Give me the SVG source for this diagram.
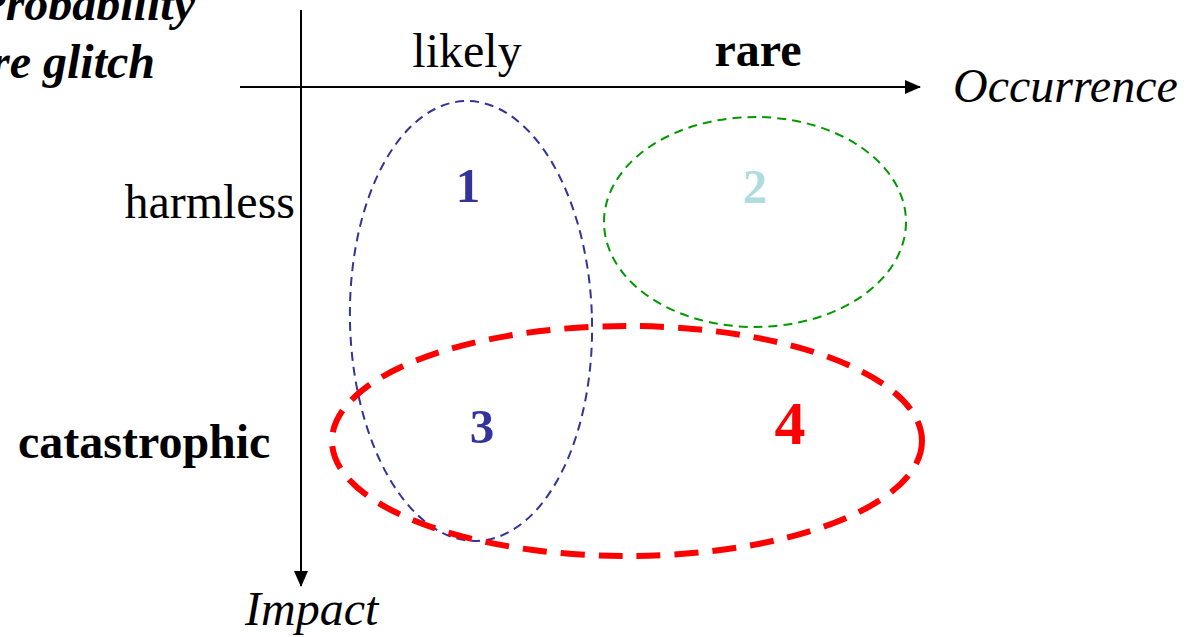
<svg xmlns="http://www.w3.org/2000/svg" width="1188" height="637" viewBox="0 0 1188 637">
<style>
text{font-family:"Liberation Serif","Times New Roman",serif;font-size:48px;fill:#000}
.b{font-weight:bold}
.i{font-style:italic}
.axis{stroke:#000;stroke-width:2;fill:none}
.num{font-weight:bold;text-anchor:middle;font-size:49px}
</style>
<defs>
<marker id="ah" markerWidth="16" markerHeight="14" refX="15" refY="7" orient="auto" markerUnits="userSpaceOnUse">
<path d="M0,0 L16,7 L0,14 Z" fill="#000"/>
</marker>
</defs>
<rect width="1188" height="637" fill="#fff"/>
<g id="connectors">
<line class="axis" x1="240" y1="87" x2="920" y2="87" marker-end="url(#ah)"/>
<line class="axis" x1="301" y1="10" x2="301" y2="586" marker-end="url(#ah)"/>
</g>
<g id="labels">
<text class="b i" x="195" y="20" text-anchor="end">Probability</text>
<text class="b i" x="155" y="78" text-anchor="end">re glitch</text>
<text x="467" y="67" text-anchor="middle">likely</text>
<text class="b" x="758" y="66" text-anchor="middle">rare</text>
<text class="i" x="953" y="102">Occurrence</text>
<text x="295" y="218" text-anchor="end">harmless</text>
<text class="b" x="18" y="458">catastrophic</text>
<text class="i" x="245" y="625">Impact</text>
</g>
<g id="region1">
<ellipse cx="471" cy="321" rx="121" ry="220" transform="rotate(-1.5 471 321)" fill="none" stroke="#333399" stroke-width="2" stroke-dasharray="9,6"/>
<text class="num" x="468" y="202" style="fill:#333399">1</text>
</g>
<g id="region2">
<ellipse cx="755" cy="222" rx="151" ry="105" fill="none" stroke="#009900" stroke-width="2" stroke-dasharray="9,6"/>
<text class="num" x="755" y="203" style="fill:#b0dce0">2</text>
</g>
<g id="region3">
<text class="num" x="482" y="443" style="fill:#333399">3</text>
</g>
<g id="region4">
<ellipse cx="627" cy="441" rx="295" ry="115" fill="none" stroke="#ff0000" stroke-width="6" stroke-dasharray="24,14"/>
<text class="num" x="790" y="444" style="fill:#ff0000;font-size:62px">4</text>
</g>
</svg>
